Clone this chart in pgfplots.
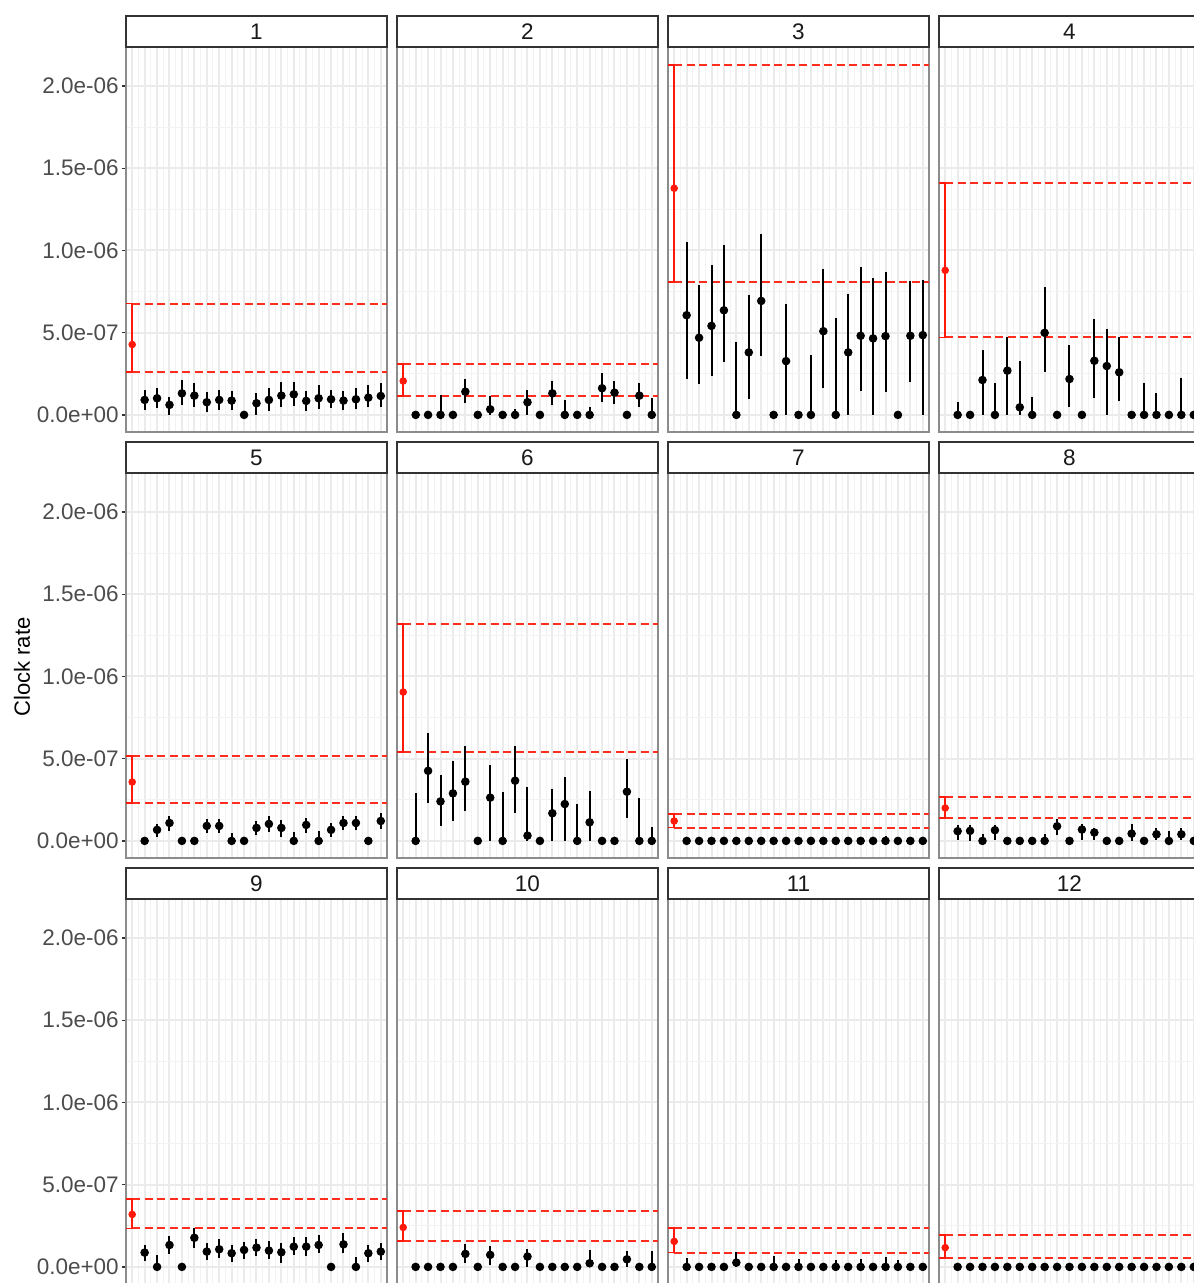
\documentclass[border=0pt]{standalone}
\usepackage{fontspec}
\setmainfont{Liberation Sans}
\usepackage{pgfplots}
\usepackage{pgfplotstable}
\pgfplotsset{compat=1.18}
\definecolor{ggred}{RGB}{255,25,10}
\definecolor{ggdash}{RGB}{255,45,30}

% values in units of 1e-7
\pgfplotstableread{
x y lo hi
2 0.91 0.30 1.52
3 1.01 0.40 1.62
4 0.61 0.00 1.11
5 1.31 0.61 2.12
6 1.17 0.51 1.92
7 0.77 0.20 1.41
8 0.91 0.30 1.52
9 0.87 0.30 1.47
10 0 0 0
11 0.71 0 1.35
12 0.91 0.26 1.62
13 1.17 0.46 2.02
14 1.25 0.55 2.02
15 0.85 0.26 1.47
16 1.01 0.34 1.82
17 0.95 0.40 1.52
18 0.87 0.30 1.47
19 0.95 0.34 1.62
20 1.05 0.46 1.82
21 1.15 0.51 1.96
}\tA
\pgfplotstableread{
x y lo hi
2 0 0 0
3 0 0 0
4 0 0 1.21
5 0 0 0
6 1.41 0.71 2.16
7 0 0 0
8 0.34 0 1.15
9 0 0 0
10 0 0 0.34
11 0.77 0 1.52
12 0 0 0
13 1.31 0.61 2.08
14 0 0 0.91
15 0 0 0
16 0 0 0.46
17 1.62 0.81 2.57
18 1.35 0.67 2.08
19 0 0 0
20 1.17 0.51 1.92
21 0 0 1.01
}\tB
\pgfplotstableread{
x y lo hi
2 6.06 2.18 10.51
3 4.69 1.88 7.92
4 5.41 2.36 9.09
5 6.36 3.19 10.30
6 0 0 4.44
7 3.80 0.95 7.27
8 6.93 3.58 11.01
9 0 0 0
10 3.27 0 6.73
11 0 0 0
12 0 0 3.64
13 5.09 1.62 8.89
14 0 0 5.92
15 3.80 0 7.37
16 4.81 1.47 8.99
17 4.65 0 8.32
18 4.79 1.37 8.69
19 0 0 0
20 4.81 2.02 8.12
21 4.85 0 8.22
}\tC
\pgfplotstableread{
x y lo hi
2 0 0 0.77
3 0 0 0
4 2.12 0 3.94
5 0 0 1.92
6 2.69 0 4.71
7 0.46 0 3.27
8 0 0 1.07
9 4.99 2.59 7.78
10 0 0 0
11 2.18 0.51 4.24
12 0 0 0
13 3.29 1.05 5.86
14 2.97 0 5.25
15 2.59 0.87 4.71
16 0 0 0
17 0 0 1.96
18 0 0 1.31
19 0 0 0
20 0 0 2.26
21 0 0 0
}\tD
\pgfplotstableread{
x y lo hi
2 0 0 0
3 0.67 0.24 1.03
4 1.09 0.61 1.52
5 0 0 0
6 0 0 0
7 0.91 0.48 1.33
8 0.91 0.48 1.33
9 0 0 0.48
10 0 0 0
11 0.79 0.36 1.21
12 1.03 0.55 1.52
13 0.79 0.24 1.27
14 0 0 0.55
15 0.97 0.48 1.39
16 0 0 0.61
17 0.67 0.24 1.09
18 1.09 0.67 1.52
19 1.09 0.67 1.52
20 0 0 0
21 1.21 0.73 1.70
}\tE
\pgfplotstableread{
x y lo hi
2 0 0 2.93
3 4.26 2.32 6.57
4 2.40 0.91 3.98
5 2.89 1.23 4.85
6 3.60 1.82 5.76
7 0 0 0
8 2.63 0 4.59
9 0 0 2.95
10 3.66 1.68 5.78
11 0.32 0 3.29
12 0 0 0
13 1.68 0 3.17
14 2.24 0 3.86
15 0 0 2.22
16 1.13 0 3.03
17 0 0 0
18 0 0 0
19 2.99 1.41 4.95
20 0 0 2.59
21 0 0 0.87
}\tF
\pgfplotstableread{
x y lo hi
2 0 0 0
3 0 0 0
4 0 0 0
5 0 0 0
6 0 0 0
7 0 0 0
8 0 0 0
9 0 0 0
10 0 0 0
11 0 0 0
12 0 0 0
13 0 0 0
14 0 0 0
15 0 0 0
16 0 0 0
17 0 0 0
18 0 0 0.30
19 0 0 0
20 0 0 0
21 0 0 0
}\tG
\pgfplotstableread{
x y lo hi
2 0.59 0.04 0.95
3 0.61 0 0.99
4 0 0 0.44
5 0.65 0.04 0.95
6 0 0 0
7 0 0 0
8 0 0 0
9 0 0 0.44
10 0.89 0.38 1.35
11 0 0 0
12 0.69 0.04 1.05
13 0.51 0.04 0.81
14 0 0 0
15 0 0 0
16 0.44 0 1.05
17 0 0 0
18 0.40 0.04 0.81
19 0 0 0.61
20 0.40 0.04 0.81
21 0 0 0
}\tH
\pgfplotstableread{
x y lo hi
2 0.87 0.36 1.33
3 0 0 0.71
4 1.33 0.77 1.88
5 0 0 0
6 1.77 1.13 2.34
7 0.93 0.42 1.47
8 1.07 0.52 1.67
9 0.83 0.32 1.33
10 1.03 0.46 1.53
11 1.17 0.67 1.69
12 0.99 0.46 1.59
13 0.89 0.26 1.43
14 1.23 0.73 1.79
15 1.23 0.67 1.79
16 1.33 0.83 1.94
17 0 0 0
18 1.37 0.83 2.04
19 0 0 0.58
20 0.83 0.32 1.33
21 0.93 0.42 1.43
}\tI
\pgfplotstableread{
x y lo hi
2 0 0 0
3 0 0 0
4 0 0 0
5 0 0 0
6 0.79 0.22 1.39
7 0 0 0
8 0.73 0.12 1.27
9 0 0 0
10 0 0 0
11 0.63 0 1.11
12 0 0 0
13 0 0 0
14 0 0 0
15 0 0 0
16 0.22 0 1.03
17 0 0 0
18 0 0 0
19 0.46 0 0.97
20 0 0 0
21 0 0 0.97
}\tJ
\pgfplotstableread{
x y lo hi
2 0 0 0.56
3 0 0 0
4 0 0 0
5 0 0 0
6 0.26 0 0.93
7 0 0 0
8 0 0 0
9 0 0 0.67
10 0 0 0
11 0 0 0.46
12 0 0 0
13 0 0 0
14 0 0 0.42
15 0 0 0
16 0 0 0.50
17 0 0 0
18 0 0 0.62
19 0 0 0.42
20 0 0 0
21 0 0 0
}\tK
\pgfplotstableread{
x y lo hi
2 0 0 0
3 0 0 0
4 0 0 0
5 0 0 0
6 0 0 0
7 0 0 0
8 0 0 0
9 0 0 0
10 0 0 0
11 0 0 0
12 0 0 0
13 0 0 0
14 0 0 0
15 0 0 0
16 0 0 0
17 0 0 0
18 0 0 0
19 0 0 0.22
20 0 0 0
21 0 0 0
}\tL

\pgfplotsset{
  panel/.style={
    scale only axis, width=104.4pt, height=154pt,
    xmin=0.5, xmax=21.5, ymin=-1.04, ymax=22.37,
    xtick={1,...,21}, xticklabels={}, minor x tick num=1,
    ytick={0,5,10,15,20}, minor ytick={2.5,7.5,12.5,17.5},
    grid=both,
    major grid style={black!8, line width=0.8pt},
    minor grid style={black!5, line width=0.4pt},
    axis line style={black!45, line width=0.5pt},
    xtick style={draw=none}, ytick style={draw=none},
    minor tick length=0pt,
    ytick pos=left,
    yticklabels={},
    clip=true,
  },
  firstcol/.style={
    ytick style={draw=black!80, line width=0.5pt},
    tick align=outside, major tick length=1.6pt,
    yticklabels={0.0e+00,5.0e-07,1.0e-06,1.5e-06,2.0e-06},
    yticklabel style={font=\fontsize{9}{10}\selectfont, text=black!70, inner sep=1.1pt},
  },
}

% #1 x-left px, #2 panel bottom px, #3 strip top px, #4 label, #5 table,
% #6 red centre, #7 red low, #8 red high, #9 extra style
\newcommand{\panel}[9]{%
\begin{axis}[panel, #9, at={(#1*0.4pt,-#2*0.4pt)}, anchor=south west]
\addplot[ggdash, line width=0.8pt, dash pattern=on 3.2pt off 1.8pt] coordinates {(1,#8) (21.5,#8)};
\addplot[ggdash, line width=0.8pt, dash pattern=on 3.2pt off 1.8pt] coordinates {(1,#7) (21.5,#7)};
\addplot[ggred, line width=0.7pt] coordinates {(0.5,#8) (1,#8) (1,#7) (0.5,#7)};
\addplot[ggred, only marks, mark=*, mark size=1.3pt] coordinates {(1,#6)};
\addplot[black, only marks, mark=*, mark size=1.5pt,
  error bars/.cd, y dir=both, y explicit, error mark=none,
  error bar style={line width=0.8pt, black}]
  table[x=x, y=y, y error plus expr=\thisrow{hi}-\thisrow{y},
        y error minus expr=\thisrow{y}-\thisrow{lo}] {#5};
\end{axis}
\draw[black!80, line width=0.6pt, fill=white] (#1*0.4pt,-#3*0.4pt) rectangle ({(#1+261)*0.4pt},{-(#3+31)*0.4pt});
\node[font=\fontsize{9}{10}\selectfont, text=black!90] at ({(#1+130.5)*0.4pt},{-(#3+15.5)*0.4pt}) {#4};
}

\begin{document}
\begin{tikzpicture}
\path[use as bounding box] (0,0) rectangle (477.2pt,-513.2pt);
\panel{126}{432}{16}{1}{\tA}{4.28}{2.63}{6.77}{firstcol}
\panel{397}{432}{16}{2}{\tB}{2.06}{1.15}{3.09}{}
\panel{668}{432}{16}{3}{\tC}{13.78}{8.08}{21.28}{}
\panel{939}{432}{16}{4}{\tD}{8.79}{4.71}{14.08}{}
\panel{126}{858}{442}{5}{\tE}{3.58}{2.30}{5.15}{firstcol}
\panel{397}{858}{442}{6}{\tF}{9.05}{5.39}{13.21}{}
\panel{668}{858}{442}{7}{\tG}{1.21}{0.81}{1.64}{}
\panel{939}{858}{442}{8}{\tH}{2.00}{1.39}{2.67}{}
\panel{126}{1284}{868}{9}{\tI}{3.19}{2.34}{4.11}{firstcol}
\panel{397}{1284}{868}{10}{\tJ}{2.40}{1.57}{3.39}{}
\panel{668}{1284}{868}{11}{\tK}{1.55}{0.87}{2.36}{}
\panel{939}{1284}{868}{12}{\tL}{1.17}{0.56}{1.92}{}
\node[rotate=90, font=\fontsize{8.8}{10}\selectfont] at (22*0.4pt,-667*0.4pt) {Clock rate};
\end{tikzpicture}
\end{document}
